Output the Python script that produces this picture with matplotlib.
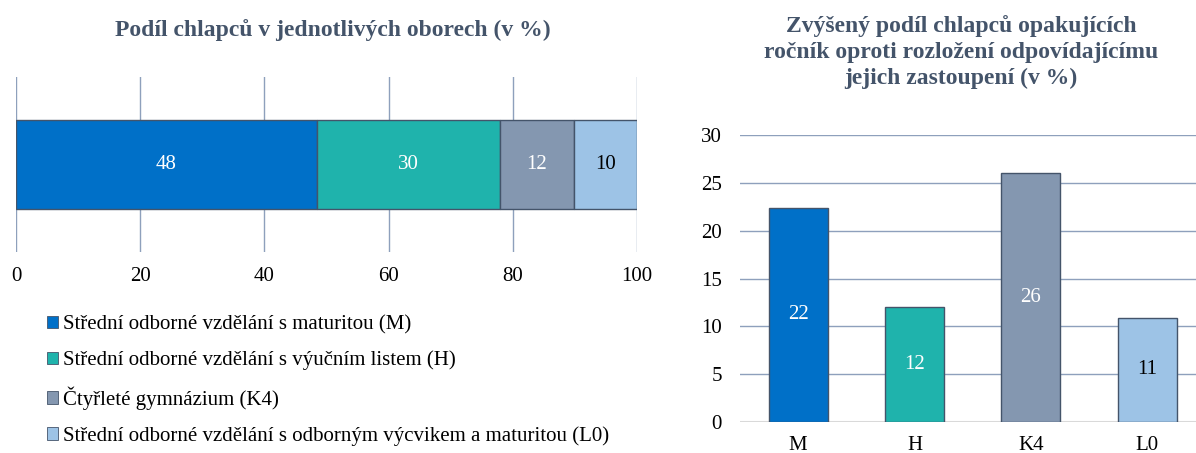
import matplotlib.pyplot as plt
import matplotlib.patches as patches

# data
categories = ["M", "H", "K4", "L0"]
legend_labels = [
    "Střední odborné vzdělání s maturitou (M)",
    "Střední odborné vzdělání s výučním listem (H)",
    "Čtyřleté gymnázium (K4)",
    "Střední odborné vzdělání s odborným výcvikem a maturitou (L0)",
]
share_boys = [48.4, 29.6, 11.8, 10.2]      # podíl chlapců v oborech
repeat_excess = [22.4, 12.0, 26.0, 10.9]   # zvýšený podíl opakujících

colors = ["#0070C8", "#1FB3AC", "#8497B0", "#9DC3E6"]
label_colors = ["white", "white", "white", "black"]
edge = "#44546A"
title_color = "#44546A"
grid_color = "#8EA0BC"

plt.rcParams["font.family"] = ["Liberation Serif", "DejaVu Serif"]

fig = plt.figure(figsize=(11.96, 4.53), dpi=100)
W, H = 1196, 453


def px_axes(x0, y0, x1, y1):
    # pixel box (top-left origin) -> figure fraction
    return fig.add_axes([x0 / W, 1 - y1 / H, (x1 - x0) / W, (y1 - y0) / H])


# ---- left: stacked horizontal bar ----
ax1 = px_axes(16, 77, 637, 252)
left = 0
for val, col, lc in zip(share_boys, colors, label_colors):
    ax1.barh(0, val, left=left, height=0.503, color=col, edgecolor=edge,
             linewidth=1, zorder=3)
    ax1.text(left + val / 2, 0, f"{val:.0f}", ha="center", va="center",
             color=lc, fontsize=15, zorder=4)
    left += val
ax1.set_xlim(0, 100)
ax1.set_ylim(-0.5, 0.5)
ax1.set_xticks(range(0, 101, 20))
ax1.set_yticks([])
ax1.xaxis.grid(True, color=grid_color, linewidth=1, zorder=0)
ax1.tick_params(axis="x", length=0, pad=11, labelsize=15)
for s in ax1.spines.values():
    s.set_visible(False)
fig.text(333 / W, 1 - 30 / H, "Podíl chlapců v jednotlivých oborech (v %)",
         ha="center", va="center", fontsize=17, fontweight="bold",
         color=title_color)

# legend
handles = [patches.Patch(facecolor=c, edgecolor=edge, linewidth=0.6) for c in colors]
fig.legend(handles, legend_labels, loc="upper left",
           bbox_to_anchor=(47 / W, 1 - 315 / H), frameon=False, fontsize=15,
           handlelength=0.55, handleheight=0.55, handletextpad=0.2,
           labelspacing=0.78, borderaxespad=0, borderpad=0)

# ---- right: column chart ----
ax2 = px_axes(740, 135, 1196, 422)
x = range(len(categories))
ax2.bar(x, repeat_excess, width=0.506, color=colors, edgecolor=edge,
        linewidth=1, zorder=3)
for xi, val, lc in zip(x, repeat_excess, label_colors):
    ax2.text(xi, val / 2, f"{val:.0f}", ha="center", va="center",
             color=lc, fontsize=15, zorder=4)
ax2.set_xlim(-0.5, 3.42)
ax2.set_ylim(0, 30)
ax2.set_yticks(range(0, 31, 5))
ax2.set_xticks(list(x))
ax2.set_xticklabels(categories)
ax2.yaxis.grid(True, color=grid_color, linewidth=1, zorder=0)
ax2.tick_params(length=0, labelsize=15)
ax2.tick_params(axis="y", pad=13)
ax2.tick_params(axis="x", pad=10)
for s in ax2.spines.values():
    s.set_visible(False)
ax2.axhline(0, color="#D9D9D9", linewidth=1.5, zorder=2)
fig.text(961 / W, 1 - 52 / H,
         "Zvýšený podíl chlapců opakujících\nročník oproti rozložení odpovídajícímu\njejich zastoupení (v %)",
         ha="center", va="center", fontsize=17, fontweight="bold",
         color=title_color, linespacing=1.3)

fig.savefig("out.png", dpi=100)
